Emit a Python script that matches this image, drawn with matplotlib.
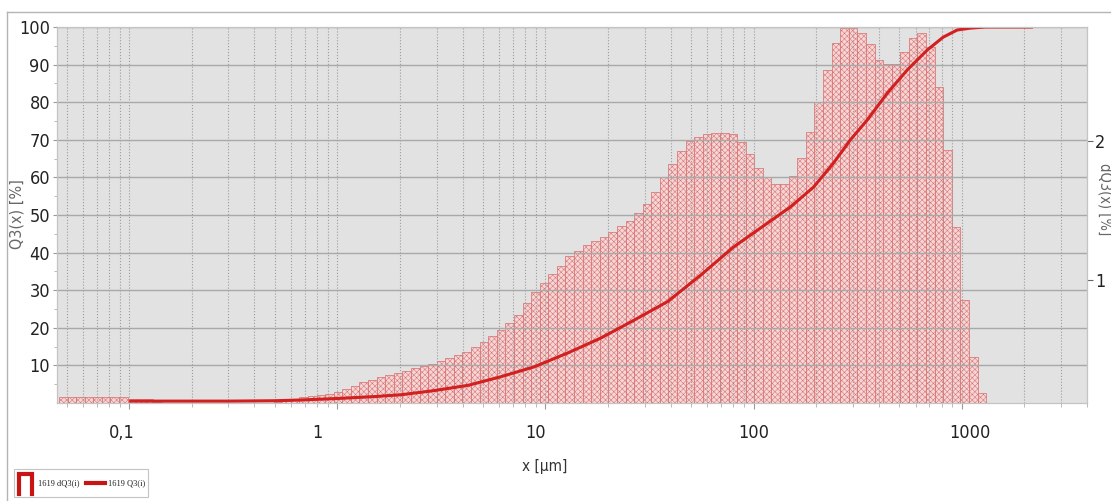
import numpy as np
import matplotlib
matplotlib.use('Agg')
import matplotlib.pyplot as plt
from matplotlib.patches import Rectangle
from matplotlib.lines import Line2D
from matplotlib.transforms import ScaledTranslation
from matplotlib.ticker import FixedLocator, NullFormatter

# Korngrößenverteilung, Probe 1619
# Histogramm dQ3 [%] je Klasse, Klassen geometrisch von 0,046 bis 1310 µm
klasse_min = 0.046
klasse_max = 1310.0
dQ3 = [
    0.157, 0.157, 0.157, 0.157, 0.157, 0.157, 0.157, 0.157,
    0.143, 0.143, 0.143, 0.124,
    0.119, 0.119, 0.119, 0.119, 0.119, 0.119, 0.119, 0.119, 0.119, 0.119, 0.119, 0.119, 0.119,
    0.124, 0.130, 0.138, 0.160, 0.168, 0.176, 0.184, 0.197, 0.216, 0.238,
    0.265, 0.284, 0.300, 0.316, 0.333, 0.346, 0.365, 0.381, 0.398, 0.419,
    0.441, 0.463, 0.484, 0.522, 0.557, 0.598, 0.641, 0.690, 0.752, 0.833,
    0.914, 0.982, 1.044, 1.104, 1.171, 1.212, 1.252, 1.279, 1.307, 1.347,
    1.388, 1.428, 1.482, 1.550, 1.631, 1.739, 1.834, 1.929, 2.002, 2.029,
    2.050, 2.059, 2.059, 2.050, 1.994, 1.907, 1.807, 1.742, 1.691, 1.691,
    1.750, 1.880, 2.067, 2.283, 2.513, 2.705, 2.813, 2.813, 2.778, 2.700,
    2.583, 2.556, 2.556, 2.643, 2.743, 2.778, 2.678, 2.389, 1.937, 1.382,
    0.858, 0.446, 0.189,
]

# Summenkurve Q3 [%]
q3_x = [0.1, 0.3, 0.5, 0.67, 1.0, 1.5, 2.03, 2.92, 4.25, 6.12, 8.81, 12.8, 18.5,
        26.6, 38.7, 55.7, 80.2, 117, 150, 194, 242, 292, 352, 439, 548, 684,
        815, 951, 1099, 1300, 2200]
q3_y = [0.5, 0.5, 0.6, 0.8, 1.2, 1.7, 2.2, 3.3, 4.7, 7.0, 9.6, 13.3, 17.3,
        22.0, 27.0, 34.0, 41.5, 47.9, 52.1, 57.4, 63.8, 70.0, 75.3, 82.4, 88.6, 93.9,
        97.3, 99.2, 99.7, 100.0, 100.0]

x_ticks = [0.1, 1, 10, 100, 1000]
x_labels = ['0,1', '1', '10', '100', '1000']
y_ticks = [10, 20, 30, 40, 50, 60, 70, 80, 90, 100]
dq_ticks = [1, 2]

FONT = ['DejaVu Sans']
plt.rcParams['hatch.linewidth'] = 0.35
plt.rcParams['font.stretch'] = 'condensed'

fig = plt.figure(figsize=(11.11, 5.01), dpi=100)
W, H = 1111, 501
ax = fig.add_axes([57 / W, 1 - 403 / H, (1087 - 57) / W, (403 - 27) / H])
ax2 = ax.twinx()

# Hintergrund kommt vom Histogramm-Achsenobjekt, Kurve und Gitter liegen darüber
ax.set_zorder(ax2.get_zorder() + 1)
ax.patch.set_visible(False)
ax2.patch.set_visible(True)
ax2.patch.set_facecolor('#e2e2e2')

kanten = np.geomspace(klasse_min, klasse_max, len(dQ3) + 1)
ax2.bar(kanten[:-1], dQ3, width=np.diff(kanten), align='edge',
        facecolor='#f5d6d6', edgecolor='#d86c6c', linewidth=0.5, hatch='xxxxxx')

ax.plot(q3_x, q3_y, color='#d21f1f', linewidth=2.2, solid_capstyle='butt')

ax.set_xscale('log')
ax.set_xlim(0.045, 4000)
ax.set_ylim(0, 100)
ax2.set_ylim(0.116, 2.82)

ax.xaxis.set_major_locator(FixedLocator(x_ticks))
ax.set_xticklabels(x_labels)
minor = [k * 10.0 ** e for e in range(-2, 4) for k in range(2, 10)]
ax.xaxis.set_minor_locator(FixedLocator(minor))
ax.xaxis.set_minor_formatter(NullFormatter())

ax.set_yticks(y_ticks)
ax.yaxis.set_minor_locator(FixedLocator([5, 15, 25, 35, 45, 55, 65, 75, 85, 95]))
ax2.set_yticks(dq_ticks)
ax2.set_yticklabels(['1', '2'])

ax.grid(which='both', axis='x', linestyle=':', color='#9c9c9c', linewidth=0.8)
ax.grid(which='major', axis='y', linestyle='-', color='#a9a9a9', linewidth=1.0)

ax.tick_params(axis='x', which='major', length=4, pad=11, colors='#9a9a9a',
               labelcolor='#222222', labelsize=13)
ax.tick_params(axis='x', which='minor', length=3, colors='#b0b0b0')
ax.tick_params(axis='y', which='major', length=3, pad=2, colors='#9a9a9a',
               labelcolor='#222222', labelsize=13)
ax.tick_params(axis='y', which='minor', length=2, colors='#b0b0b0')
ax2.tick_params(axis='y', length=4, pad=2, colors='#666666',
                labelcolor='#222222', labelsize=13)

for lab in ax.get_xticklabels() + ax.get_yticklabels() + ax2.get_yticklabels():
    lab.set_family(FONT)
    lab.set_stretch('condensed')

# Beschriftungen der Dekaden leicht versetzt wie in der Software
versatz = [-7, -20, -10, 0, 8]
for lab, dx in zip(ax.get_xticklabels(), versatz):
    lab.set_transform(lab.get_transform() + ScaledTranslation(dx / 100, 0, fig.dpi_scale_trans))

for a in (ax, ax2):
    for s in a.spines.values():
        s.set_color('#c4c4c4')
        s.set_linewidth(0.8)

fig.text(545 / W, 1 - 466 / H, 'x [µm]', ha='center', va='center',
         fontsize=11, color='#333333', family=FONT, stretch='condensed')
fig.text(17 / W, 1 - 214 / H, 'Q3(x) [%]', ha='center', va='center', rotation=90,
         fontsize=11.5, color='#666666', family=FONT, stretch='condensed')
fig.text(1097 / W, 1 - 163 / H, 'dQ3(x) [%]', ha='left', va='top', rotation=-90,
         fontsize=10.5, color='#666666', family=FONT, stretch='condensed')

# äußerer Rahmen (nur links und oben sichtbar)
fig.add_artist(Line2D([7 / W, 7 / W], [0, 1 - 12 / H], color='#b4b4b4', linewidth=1.0))
fig.add_artist(Line2D([7 / W, 1], [1 - 12 / H, 1 - 12 / H], color='#b4b4b4', linewidth=1.0))

# Legende unten links
fig.add_artist(Rectangle((14 / W, 1 - 497 / H), 134 / W, 28 / H, facecolor='white',
                         edgecolor='#c4c4c4', linewidth=0.8))
fig.add_artist(Line2D([19 / W, 19 / W, 32 / W, 32 / W],
                      [1 - 494 / H, 1 - 474 / H, 1 - 474 / H, 1 - 494 / H],
                      color='#c81414', linewidth=3.0, solid_joinstyle='miter'))
fig.text(38 / W, 1 - 483 / H, '1619 dQ3(i)', ha='left', va='center', fontsize=6,
         family='Liberation Serif', color='#222222')
fig.add_artist(Line2D([86 / W, 105 / W], [1 - 483 / H, 1 - 483 / H],
                      color='#c81414', linewidth=3.0))
fig.text(108 / W, 1 - 483 / H, '1619 Q3(i)', ha='left', va='center', fontsize=6,
         family='Liberation Serif', color='#222222')

fig.savefig('out.png', dpi=100, facecolor='white')
